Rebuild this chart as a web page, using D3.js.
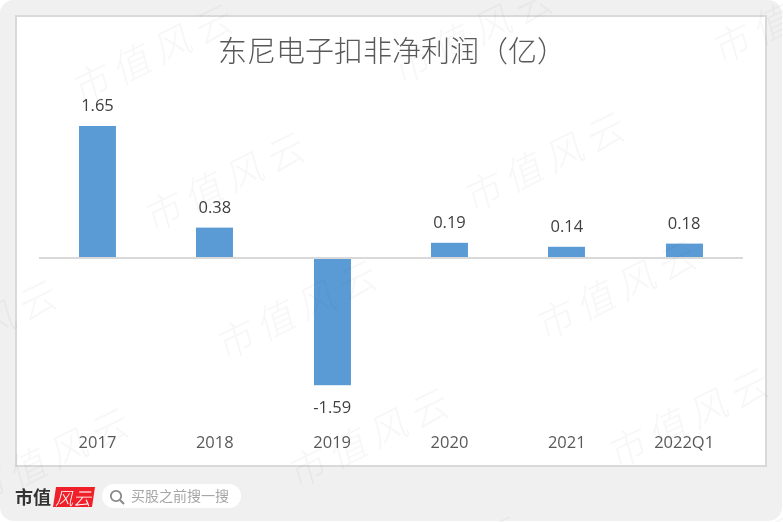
<!DOCTYPE html>
<html>
<head>
    <meta charset="utf-8">
    <title>东尼电子扣非净利润</title>
    <script src="https://d3js.org/d3.v7.min.js"></script>
    <style>
        body { margin: 0; background: #fff; }
        svg { display: block; }
        text { font-family: "Open Sans", "Noto Sans CJK SC", sans-serif; }
        .cjk { font-family: "Noto Sans CJK SC", sans-serif; }
    </style>
</head>
<body>
    <svg id="chart" width="783" height="522"></svg>

    <script>
        const periods = ["2017", "2018", "2019", "2020", "2021", "2022Q1"];
        const profits = [1.65, 0.38, -1.59, 0.19, 0.14, 0.18];
        const chartTitle = "东尼电子扣非净利润（亿）";
        const watermarkText = "市值风云";
        const searchText = "买股之前搜一搜";

        const svg = d3.select("#chart");

        // page background and chart panel
        svg.append("rect").attr("x", 0).attr("y", 0).attr("width", 782).attr("height", 521)
            .attr("rx", 14).attr("fill", "#f0f0f0");
        svg.append("rect").attr("x", 16).attr("y", 16).attr("width", 750).attr("height", 450)
            .attr("fill", "#fff").attr("stroke", "#d9d9d9").attr("stroke-width", 2);

        const x = d3.scaleBand().domain(periods).range([38.8, 742.8]).paddingInner(0.685).paddingOuter(0.3425);
        // zero line sits at y=258, about 80px per unit
        const y = d3.scaleLinear().domain([-2, 2]).range([418, 98]);

        svg.append("text")
            .attr("class", "cjk")
            .attr("x", 218)
            .attr("y", 62)
            .style("font-size", "29px")
            .style("font-weight", 300)
            .style("fill", "#595959")
            .text(chartTitle);

        const rows = periods.map((p, i) => ({ period: p, value: profits[i] }));

        svg.selectAll(".bar")
            .data(rows)
            .join("rect")
            .attr("class", "bar")
            .attr("x", d => Math.round(x(d.period)))
            .attr("y", d => Math.min(y(d.value), y(0)))
            .attr("width", x.bandwidth())
            .attr("height", d => Math.abs(y(d.value) - y(0)))
            .attr("fill", "#5b9bd5");

        // zero line
        svg.append("line")
            .attr("x1", 39).attr("x2", 743)
            .attr("y1", y(0)).attr("y2", y(0))
            .attr("stroke", "#d9d9d9").attr("stroke-width", 2);

        svg.selectAll(".value")
            .data(rows)
            .join("text")
            .attr("class", "value")
            .attr("x", d => x(d.period) + x.bandwidth() / 2)
            .attr("y", d => d.value >= 0 ? y(d.value) - 15 : y(d.value) + 28)
            .attr("text-anchor", "middle")
            .style("font-size", "16.5px")
            .style("fill", "#404040")
            .text(d => d.value.toFixed(2));

        // category labels
        const axis = svg.append("g")
            .attr("transform", "translate(0,430)")
            .call(d3.axisBottom(x).tickSize(0));
        axis.select(".domain").remove();
        axis.selectAll("text")
            .attr("dy", 0).attr("y", 18)
            .style("font-family", "'Open Sans', sans-serif")
            .style("font-size", "16.5px")
            .style("fill", "#595959");

        // logo and search box at the bottom
        svg.append("text").attr("class", "cjk")
            .attr("x", 15).attr("y", 504)
            .style("font-size", "18px").style("font-weight", 700).style("fill", "#333")
            .text("市值");
        svg.append("path")
            .attr("d", "M56,487 L95,487 L92,507 L53,507 Z")
            .attr("fill", "#f0202a");
        svg.append("text").attr("class", "cjk")
            .attr("transform", "translate(55,505) skewX(-14)")
            .style("font-size", "18px").style("font-weight", 300).style("fill", "#fff")
            .text("风云");

        svg.append("rect").attr("x", 102).attr("y", 484).attr("width", 139).attr("height", 24)
            .attr("rx", 12).attr("fill", "#fff");
        svg.append("circle").attr("cx", 116).attr("cy", 496).attr("r", 5.2)
            .attr("fill", "none").attr("stroke", "#888").attr("stroke-width", 1.8);
        svg.append("line").attr("x1", 120).attr("y1", 500).attr("x2", 124).attr("y2", 504)
            .attr("stroke", "#888").attr("stroke-width", 2);
        svg.append("text").attr("class", "cjk")
            .attr("x", 131).attr("y", 501)
            .style("font-size", "14px").style("fill", "#a6a6a6")
            .text(searchText);

        // repeating watermark over everything, only the copies that reach the page
        const marks = [];
        for (let i = -2; i < 4; i++) {
            for (let j = -1; j < 6; j++) {
                const mx = 93 + i * 320 + j * 72;
                const my = 84 - i * 20 + j * 128;
                if (mx > -150 && mx < 783 && my > -10 && my < 610) marks.push([mx, my]);
            }
        }
        svg.append("g").selectAll("text")
            .data(marks)
            .join("text")
            .attr("class", "cjk")
            .attr("transform", d => "translate(" + d[0] + "," + d[1] + ") rotate(-26) skewX(-10)")
            .attr("x", -19)
            .attr("y", 13)
            .style("font-size", "38px")
            .style("font-weight", 300)
            .style("letter-spacing", "7px")
            .style("fill", "#f7f7f7")
            .style("mix-blend-mode", "multiply")
            .text(watermarkText);
    </script>
</body>
</html>
